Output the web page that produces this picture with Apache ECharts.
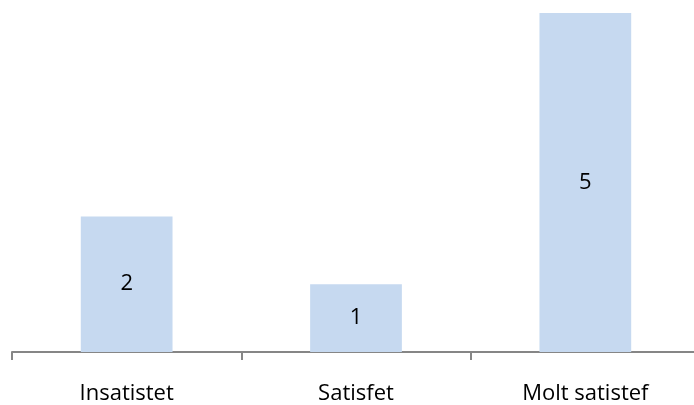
<!DOCTYPE html>
<html><head><meta charset="utf-8">
<script src="https://cdn.jsdelivr.net/npm/echarts@6/dist/echarts.min.js"></script>
<style>html,body{margin:0;padding:0;background:#fff;overflow:hidden}#c{width:700px;height:405px}</style>
</head><body><div id="c"></div>
<script>
var categories = ['Insatistet', 'Satisfet', 'Molt satistef'];
var values = [2, 1, 5];
var chart = echarts.init(document.getElementById('c'), null, {renderer: 'canvas'});
chart.setOption({
  animation: false,
  grid: {left: 12, right: 0, top: 13, bottom: 53, containLabel: false},
  xAxis: {
    type: 'category', data: categories,
    axisLine: {lineStyle: {color: '#868686', width: 2}},
    axisTick: {show: true, length: 8, lineStyle: {color: '#868686', width: 2}},
    axisLabel: {color: '#000', fontFamily: 'Open Sans', fontSize: 22, margin: 31}
  },
  yAxis: {type: 'value', min: 0, max: 5, show: false, splitLine: {show: false}},
  series: [{
    type: 'bar', data: values, barWidth: '40%',
    itemStyle: {color: '#C6D9F0'},
    label: {show: true, position: 'inside', color: '#000', fontFamily: 'Open Sans', fontSize: 22}
  }]
});
</script></body></html>
